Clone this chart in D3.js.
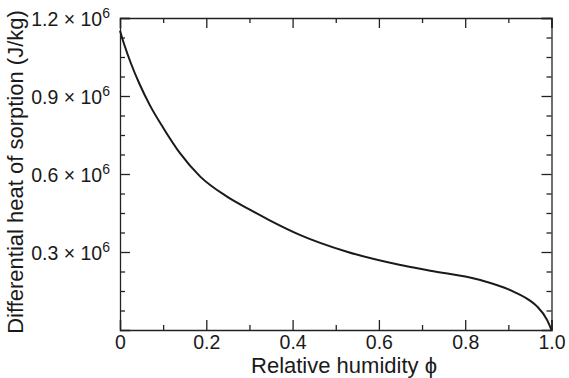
<!DOCTYPE html>
<html>
<head>
<meta charset="utf-8">
<script src="https://cdn.jsdelivr.net/npm/d3@7"></script>
<style>
  body { margin: 0; background: #fff; }
  svg { display: block; font-family: "Liberation Sans", Arial, Helvetica, sans-serif; }
  .axis path, .axis line { stroke: #222; stroke-width: 1.3; }
  .axis text { fill: #1a1a1a; font-size: 19.5px; }
  .title { fill: #1a1a1a; font-size: 22px; }
</style>
</head>
<body>
<div id="chart"></div>
<script>
// relative humidity (x) and differential heat of sorption in J/kg (y)
const phi = [0, 0.01, 0.025, 0.045, 0.07, 0.1, 0.139, 0.186, 0.248, 0.302, 0.348,
  0.418, 0.526, 0.65, 0.719, 0.835, 0.913, 0.95, 0.967, 0.99, 1.0];
const heat = [1.151e6, 1.097e6, 1.027e6, 0.947e6, 0.862e6, 0.778e6, 0.68e6, 0.59e6, 0.513e6, 0.462e6, 0.421e6,
  0.365e6, 0.301e6, 0.25e6, 0.228e6, 0.192e6, 0.147e6, 0.113e6, 0.09e6, 0.038e6, 0];

const xTicks = [0, 0.2, 0.4, 0.6, 0.8, 1.0];
const xMinor = [0.1, 0.3, 0.5, 0.7, 0.9];
const yTicks = [0.3e6, 0.6e6, 0.9e6, 1.2e6];
const yMinor = [0.075e6, 0.15e6, 0.225e6, 0.375e6, 0.45e6, 0.525e6, 0.675e6, 0.75e6, 0.825e6, 0.975e6, 1.05e6, 1.125e6];

const config = {
  containerWidth: 569,
  containerHeight: 378,
  margin: {top: 18, right: 17.5, bottom: 48, left: 120}
};
const width = config.containerWidth - config.margin.left - config.margin.right;
const height = config.containerHeight - config.margin.top - config.margin.bottom;

const svg = d3.select('#chart').append('svg')
    .attr('width', config.containerWidth)
    .attr('height', config.containerHeight);

const chart = svg.append('g')
    .attr('transform', `translate(${config.margin.left},${config.margin.top})`);

const xScale = d3.scaleLinear().domain([0, 1]).range([0, width]);
const yScale = d3.scaleLinear().domain([0, 1.2e6]).range([height, 0]);

// Ticks point inward on all four sides; labels only bottom and left
const major = 10, minor = 5;

const bottomAxisG = chart.append('g').attr('class', 'axis')
    .attr('transform', `translate(0,${height})`);
bottomAxisG.call(d3.axisBottom(xScale).tickValues(xTicks).tickSize(-major).tickPadding(5)
    .tickFormat(d => d === 0 ? '0' : d3.format('.1f')(d)));
bottomAxisG.append('g').call(d3.axisBottom(xScale).tickValues(xMinor).tickSize(-minor).tickFormat(''))
    .select('.domain').remove();

const topAxisG = chart.append('g').attr('class', 'axis');
topAxisG.call(d3.axisTop(xScale).tickValues(xTicks).tickSize(-major).tickFormat(''));
topAxisG.append('g').call(d3.axisTop(xScale).tickValues(xMinor).tickSize(-minor).tickFormat(''))
    .select('.domain').remove();

const leftAxisG = chart.append('g').attr('class', 'axis');
leftAxisG.call(d3.axisLeft(yScale).tickValues(yTicks).tickSize(-major).tickPadding(10));
leftAxisG.append('g').call(d3.axisLeft(yScale).tickValues(yMinor).tickSize(-minor).tickFormat(''))
    .select('.domain').remove();

// "0.3 × 10^6" style labels
leftAxisG.selectAll(':scope > .tick text')
    .text(null)
    .attr('dy', '0.36em')
    .each(function(d) {
      const t = d3.select(this);
      t.append('tspan').text(`${d3.format('.1f')(d / 1e6)} \u00d7 10`);
      t.append('tspan').attr('dy', '-0.55em').style('font-size', '14px').text('6');
    });

const rightAxisG = chart.append('g').attr('class', 'axis')
    .attr('transform', `translate(${width},0)`);
rightAxisG.call(d3.axisRight(yScale).tickValues(yTicks).tickSize(-major).tickFormat(''));
rightAxisG.append('g').call(d3.axisRight(yScale).tickValues(yMinor).tickSize(-minor).tickFormat(''))
    .select('.domain').remove();

// Curve
const line = d3.line()
    .x((d, i) => xScale(phi[i]))
    .y(d => yScale(d))
    .curve(d3.curveMonotoneX);

chart.append('path')
    .datum(heat)
    .attr('fill', 'none')
    .attr('stroke', '#1a1a1a')
    .attr('stroke-width', 2)
    .attr('d', line);

// Axis titles
svg.append('text')
    .attr('class', 'title')
    .attr('text-anchor', 'middle')
    .attr('x', 344)
    .attr('y', 373)
    .text('Relative humidity \u03d5');

svg.append('text')
    .attr('class', 'title')
    .attr('text-anchor', 'middle')
    .attr('transform', `translate(23,${config.margin.top + height / 2 - 2}) rotate(-90)`)
    .text('Differential heat of sorption (J/kg)');
</script>
</body>
</html>
